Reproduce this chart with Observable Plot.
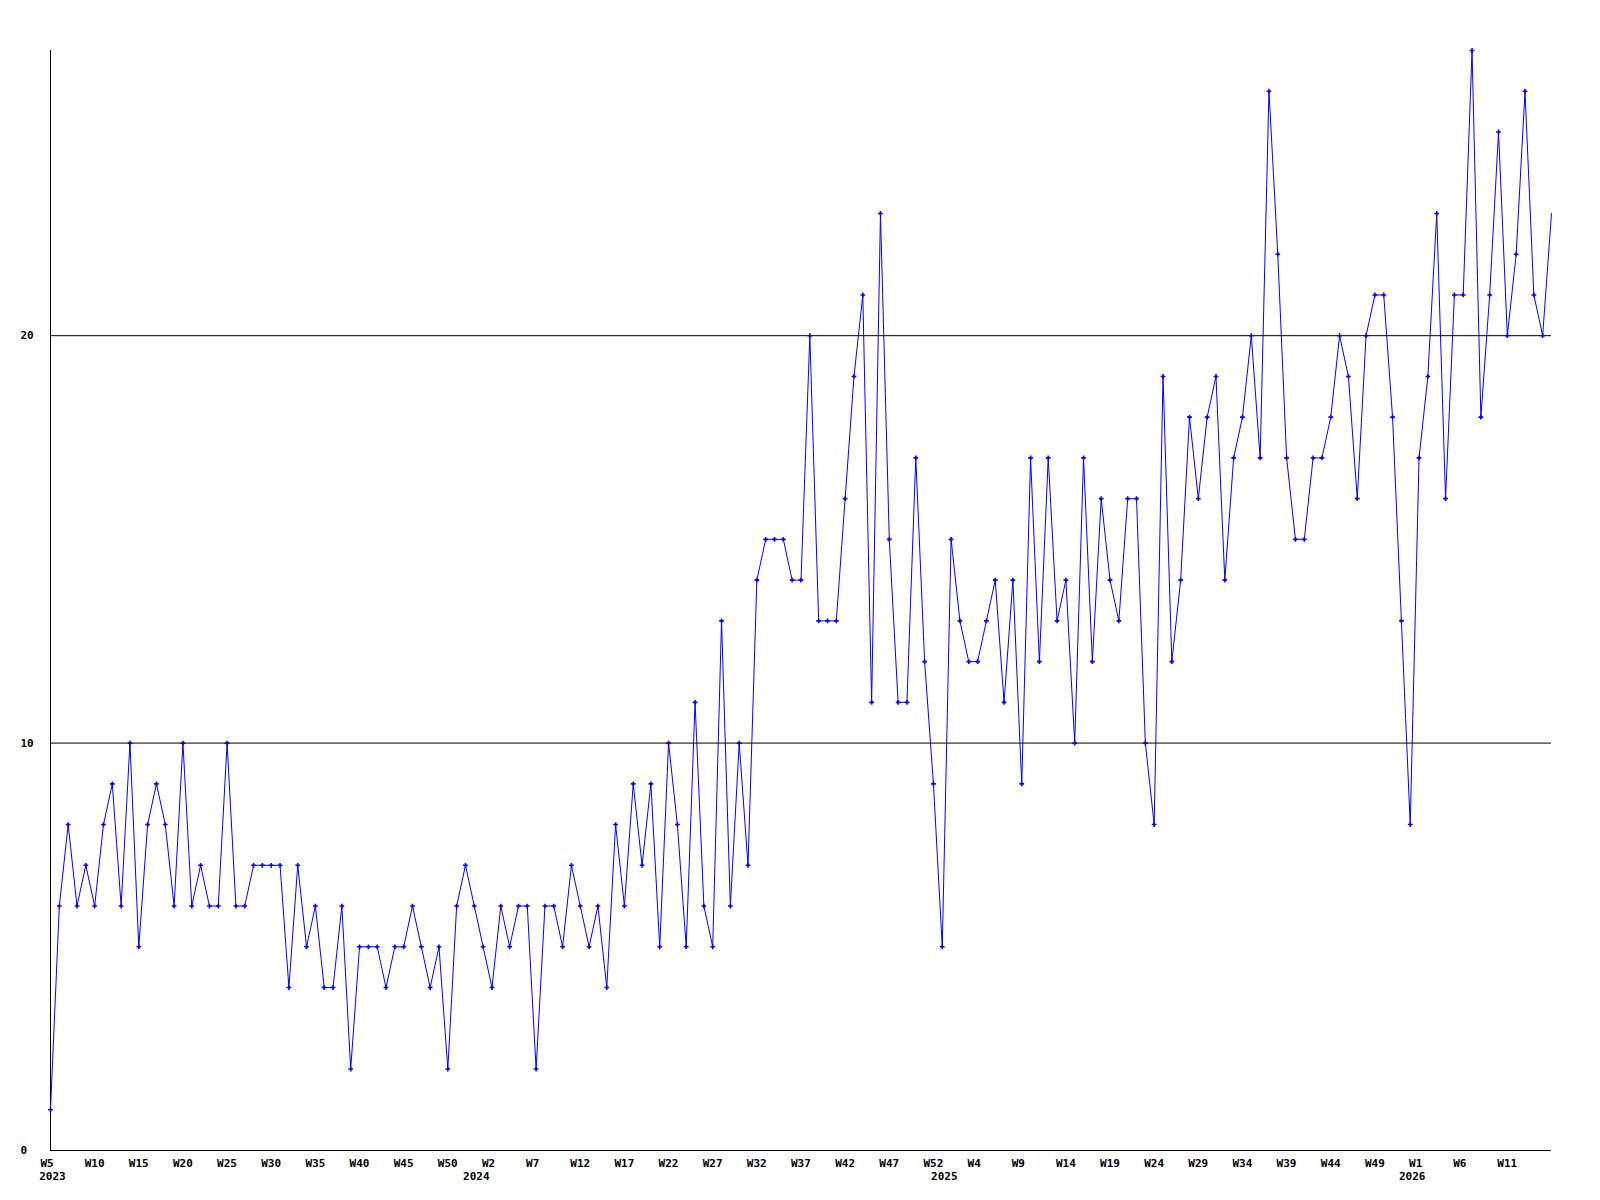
<!DOCTYPE html>
<html>
<head>
<meta charset="utf-8">
<script src="https://cdn.jsdelivr.net/npm/d3@7"></script>
<script src="https://cdn.jsdelivr.net/npm/@observablehq/plot@0.6"></script>
<style>
  html, body { margin: 0; padding: 0; background: #ffffff; }
  #chart svg { display: block; }
</style>
</head>
<body>
<div id="chart"></div>
<script>
// Weekly counts, one point per week; each year starts with its partial first week
const counts2023 = [1,6,8,6,7,6,8,9,6,10,5,8,9,8,6,10,6,7,6,6,10,6,6,7,7,7,7,4,7,5,6,4,4,6,2,5,5,5,4,5,5,6,5,4,5,2,6,7];
const counts2024 = [6,5,4,6,5,6,6,2,6,6,5,7,6,5,6,4,8,6,9,7,9,5,10,8,5,11,6,5,13,6,10,7,14,15,15,15,14,14,20,13,13,13,16,19,21,11,23,15,11,11,17,12,9];
const counts2025 = [5,15,13,12,12,13,14,11,14,9,17,12,17,13,14,10,17,12,16,14,13,16,16,10,8,19,12,14,18,16,18,19,14,17,18,20,17,26,22,17,15,15,17,17,18,20,19,16,20,21,21,18,13];
const counts2026 = [8,17,19,23,16,21,21,27,18,21,25,20,22,26,21,20,23];

// Tick labels (one every 5 points)
const weekTicks = ["W5","W10","W15","W20","W25","W30","W35","W40","W45","W50",
                   "W2","W7","W12","W17","W22","W27","W32","W37","W42","W47","W52",
                   "W4","W9","W14","W19","W24","W29","W34","W39","W44","W49",
                   "W1","W6","W11"];
const years = ["2023","2024","2025","2026"];
const yTicks = [0, 10, 20];
const yMax = 27;

const yearCounts = [counts2023, counts2024, counts2025, counts2026];
const counts = yearCounts.flat();
const data = counts.map((v, i) => ({i, v}));
const tickEvery = 5;
const tickIdx = weekTicks.map((_, k) => k * tickEvery);
const yearTickIdx = [];
const yearByIdx = new Map();
let cum = 0;
yearCounts.forEach((arr, k) => { yearTickIdx.push(cum); yearByIdx.set(cum, years[k]); cum += arr.length; });

const plot = Plot.plot({
  width: 1600,
  height: 1200,
  marginLeft: 50,
  marginRight: 49,
  marginTop: 50,
  marginBottom: 50,
  style: {
    fontFamily: "'DejaVu Sans Mono', 'Liberation Mono', monospace",
    fontSize: "11px",
    fontWeight: "bold",
    background: "#ffffff",
    color: "#000000"
  },
  x: {domain: [0, counts.length - 1], label: null},
  y: {domain: [0, yMax], label: null},
  marks: [
    Plot.ruleY(yTicks.filter(d => d > 0), {stroke: "#000000", strokeWidth: 1}),
    Plot.ruleY([0], {stroke: "#000000", strokeWidth: 1}),
    Plot.ruleX([0], {stroke: "#000000", strokeWidth: 1}),
    Plot.axisX(tickIdx, {tickSize: 0, tickPadding: 9, label: null, textAnchor: "start", dx: -10,
      tickFormat: d => weekTicks[d / tickEvery], fill: "#000000"}),
    Plot.axisX(yearTickIdx, {tickSize: 0, tickPadding: 22, label: null, dx: 2,
      tickFormat: d => yearByIdx.get(d), fill: "#000000"}),
    Plot.axisY(yTicks, {tickSize: 0, tickPadding: 0, textAnchor: "start", dx: -30, label: null, fill: "#000000"}),
    Plot.line(data, {x: "i", y: "v", stroke: "#0000ff", strokeWidth: 1}),
    Plot.dot(data.slice(0, -1), {x: "i", y: "v", symbol: "cross", r: 2, fill: "#0000ff", stroke: "none"})
  ]
});
document.getElementById("chart").appendChild(plot);
</script>
</body>
</html>
